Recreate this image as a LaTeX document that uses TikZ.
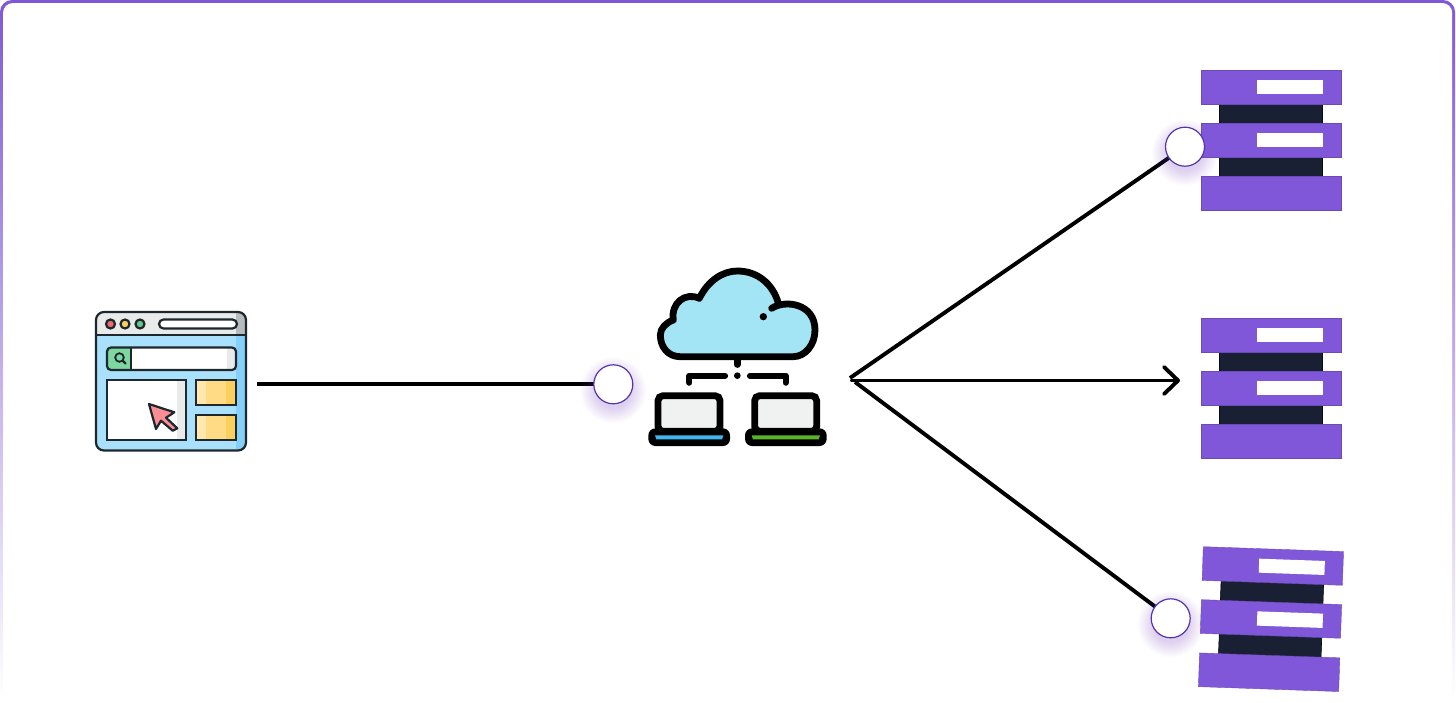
\documentclass[tikz,border=0pt]{standalone}
\usetikzlibrary{arrows.meta,calc}
\definecolor{brandpurple}{HTML}{7F57D8}
\definecolor{ringpurple}{HTML}{5533AC}
\definecolor{serverdark}{HTML}{1A2033}
\definecolor{inkdark}{HTML}{1E272C}
\definecolor{cloudblue}{HTML}{A3E4F5}
\definecolor{paneblue}{HTML}{A9E0FB}
\definecolor{panedeep}{HTML}{85D0FA}
\definecolor{softgrey}{HTML}{E9EAEA}
\definecolor{midgrey}{HTML}{B6BCBD}
\definecolor{screengrey}{HTML}{F0F2F2}
\definecolor{winyellow}{HTML}{FEDB84}
\definecolor{winlight}{HTML}{FFE7AD}
\definecolor{windeep}{HTML}{FBCF5E}
\definecolor{lampred}{HTML}{EF6A6E}
\definecolor{lampgreen}{HTML}{62C98A}
\definecolor{tabgreen}{HTML}{7ED79F}
\definecolor{cursorpink}{HTML}{FB8D94}
\definecolor{stripeblue}{HTML}{3FB8EF}
\definecolor{stripegreen}{HTML}{5BB329}
\tikzset{
  link/.style={line width=3.9pt,draw=black},
  barbar/.style={fill=brandpurple,draw=brandpurple!85!black,line width=.4pt},
  darkbar/.style={fill=serverdark,draw=black!70!serverdark,line width=.6pt},
  slot/.style={fill=white},
  portdot/.style={circle,draw=ringpurple,fill=white,line width=1.2pt,minimum size=39pt,inner sep=0pt},
  iconline/.style={draw=inkdark,line width=2.2pt},
  cloudline/.style={draw=black,line width=6.8pt,line cap=round,line join=round},
}
\newcommand{\serverstack}{%
  \fill[serverdark] (19,33) rectangle (121.5,107);
  \draw[darkbar] (19,33) rectangle (121.5,54);
  \draw[darkbar] (19,86) rectangle (121.5,107);
  \draw[barbar] (0,0) rectangle (140.3,33.7);
  \draw[barbar] (0,53) rectangle (140.3,86.7);
  \draw[barbar] (0,106.3) rectangle (140.3,140);
  \fill[slot] (56.3,10) rectangle (122,24);
  \fill[slot] (56.3,62.7) rectangle (122,77);
}
\newcommand{\glowat}[1]{%
  \foreach \r in {18,19,...,33}{\fill[brandpurple,opacity=.016] ($(#1)+(0,6)$) circle[radius=\r];}%
}
\begin{document}
\begin{tikzpicture}[x=1pt,y=-1pt]
\useasboundingbox (0,0) rectangle (1456,702);
\fill[white] (0,0) rectangle (1456,702);
% frame
\shade[top color=brandpurple,bottom color=white,rounded corners=12pt] (0,0) rectangle (1455,702);
\fill[white,rounded corners=10pt] (3,3) rectangle (1452.2,702);

% browser icon
\node[inner sep=0pt,minimum width=150pt,minimum height=139pt] (browser) at (171,381) {};
\begin{scope}
  \clip[rounded corners=8pt] (96,312) rectangle (246,450.5);
  \fill[paneblue] (96,312) rectangle (246,451);
  \fill[panedeep] (236,335) rectangle (246,451);
  \fill[softgrey] (96,312) rectangle (246,335);
  \fill[midgrey] (236,312) rectangle (246,335);
\end{scope}
\draw[iconline,rounded corners=8pt] (96,312) rectangle (246,450.5);
\draw[iconline] (96,335) -- (246,335);
\node[circle,iconline,fill=lampred,minimum size=9pt,inner sep=0pt] (lampa) at (110.5,324) {};
\node[circle,iconline,fill=windeep,minimum size=9pt,inner sep=0pt] (lampb) at (125,324) {};
\node[circle,iconline,fill=lampgreen,minimum size=9pt,inner sep=0pt] (lampc) at (140,324) {};
\draw[iconline,fill=white,rounded corners=4.5pt] (159,319.5) rectangle (237,328.5);
% search bar
\begin{scope}
  \clip[rounded corners=4pt] (107,347.5) rectangle (236,370);
  \fill[white] (107,347) rectangle (236,370);
  \fill[softgrey] (227,347) rectangle (236,370);
  \fill[tabgreen] (107,347) rectangle (131,370);
\end{scope}
\draw[iconline,rounded corners=4pt] (107,347.5) rectangle (236,370);
\draw[iconline] (131,347.5) -- (131,370);
\draw[inkdark,line width=1.8pt] (119.5,357.5) circle[radius=4.3];
\draw[inkdark,line width=2.2pt,line cap=round] (122.8,360.8) -- (125.5,363.5);
% viewport
\fill[white] (107,380) rectangle (186,440);
\fill[softgrey] (177,380) rectangle (186,440);
\draw[iconline] (107,380) rectangle (186,440);
% side tiles
\foreach \ya/\yb in {380/405,415/440}{
  \fill[winyellow] (196,\ya) rectangle (236,\yb);
  \fill[winlight] (196,\ya) rectangle (206,\yb);
  \fill[windeep] (226,\ya) rectangle (236,\yb);
  \draw[iconline] (196,\ya) rectangle (236,\yb);
}
% cursor
\draw[iconline,fill=cursorpink,line join=round] (149,404) -- (174.3,412.3) -- (166,417.7) -- (177.3,428.3) -- (172.7,430.7) -- (161,420.7) -- (156,429) -- cycle;

% cloud icon
\node[inner sep=0pt,minimum width=180pt,minimum height=180pt] (cloudhub) at (737,357) {};
\begin{scope}[shift={(580,260)},x=.33333pt,y=-.33333pt]
  \draw[cloudline,fill=cloudblue] (575,145) .. controls (615,118) and (705,130) .. (705,210) .. controls (705,255) and (675,290) .. (640,290) -- (300,290) .. controls (265,290) and (241,262) .. (241,225) .. controls (241,205) and (258,188) .. (280,180) .. controls (272,130) and (315,95) .. (358,115) .. controls (385,60) and (430,33) .. (472,33) .. controls (535,33) and (580,75) .. (595,130);
  \fill[black] (550,170) circle[radius=11];
  \draw[line width=6.4pt,line cap=round] (472,300) -- (472,314);
  \fill[black] (472,347) circle[radius=10];
  \draw[line width=6.2pt,line cap=round,line join=round] (435,347) -- (328,347) -- (328,368);
  \draw[line width=6.2pt,line cap=round,line join=round] (510,347) -- (617,347) -- (617,368);
  \foreach \dx/\stripe in {0/stripeblue,290/stripegreen}{
    \begin{scope}[xshift=\dx*.33333pt]
      \draw[black,line width=6.8pt,fill=screengrey,rounded corners=5pt] (234,407) rectangle (420,514);
      \fill[black,rounded corners=7pt] (205,505) rectangle (450,558);
      \fill[\stripe] (225,526) -- (430,526) -- (426,538) -- (229,538) -- cycle;
    \end{scope}
  }
\end{scope}

% servers
\coordinate (serverA) at (1200.7,70);
\coordinate (serverB) at (1200.7,318);
\coordinate (serverC) at (1203.3,546.7);
\coordinate (browserout) at (257,384.3);
\coordinate (fanA) at (850,378);
\coordinate (fanB) at (852,380.5);
\coordinate (fanC) at (855,382);
\coordinate (tipB) at (1180,380.5);
\node[portdot,opacity=0] (portH) at (613.3,384.3) {};
\node[portdot,opacity=0] (portA) at (1185,146.7) {};
\node[portdot,opacity=0] (portC) at (1170.7,618.3) {};

\draw[link] (browserout) -- (portH.center);
\draw[link] (fanA) -- (portA.center);
\draw[link] (fanC) -- (portC.center);
\draw[link,line cap=round,-{Straight Barb[round,length=14pt,width=27pt]}] (fanB) -- (tipB);

\glowat{portH}
\glowat{portA}
\glowat{portC}

\begin{scope}[shift={(serverA)}]\serverstack\end{scope}
\begin{scope}[shift={(serverB)}]\serverstack\end{scope}
\begin{scope}[shift={(serverC)},rotate=-2]\serverstack\end{scope}

\node[portdot] (dotH) at (portH) {};
\node[portdot] (dotA) at (portA) {};
\node[portdot] (dotC) at (portC) {};
\end{tikzpicture}
\end{document}
